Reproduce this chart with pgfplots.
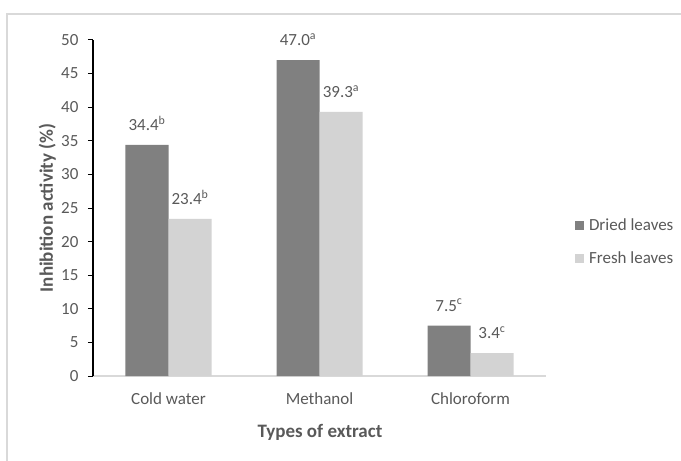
\documentclass[border=0pt]{standalone}
\usepackage{pgfplots}
\pgfplotsset{compat=1.18}
\usepackage{fontspec}
\setmainfont{Carlito}
\definecolor{txt}{HTML}{595959}
\definecolor{darkbar}{HTML}{808080}
\definecolor{lightbar}{HTML}{D3D3D3}
\definecolor{frame}{HTML}{D9D9D9}
\begin{document}
\begin{tikzpicture}[x=1pt,y=1pt]
\useasboundingbox (0,0) rectangle (681,461);
\draw[frame, line width=2pt] (7,0) -- (7,447) -- (681,447);
\begin{axis}[
 at={(93pt,85pt)}, anchor=south west,
 scale only axis, width=453pt, height=336pt,
 xmin=-0.5, xmax=2.5, ymin=0, ymax=50,
 ytick={0,5,...,50},
 xtick={0,1,2}, xticklabels={Cold water,Methanol,Chloroform},
 axis x line=bottom, axis y line=left,
 x axis line style={-, draw=frame, line width=1.5pt},
 y axis line style={-, black, line width=1.2pt},
 xtick style={draw=none},
 ytick style={black, line width=1pt},
 tick align=outside, major tick length=5pt,
 ticklabel style={font=\fontsize{17}{20}\selectfont, text=txt},
 yticklabel style={xshift=-6pt},
 xticklabel style={yshift=-8pt},
 /pgf/number format/assume math mode=true,
 ylabel={Inhibition activity (\%)},
 xlabel={Types of extract},
 label style={font=\fontsize{19}{22}\selectfont\bfseries, text=txt},
 ylabel style={at={(axis description cs:-0.101,0.5)}, anchor=center},
 xlabel style={at={(axis description cs:0.501,-0.1667)}, anchor=center},
 ybar=0pt, bar width=43pt,
 nodes near coords, point meta=explicit symbolic,
 nodes near coords style={font=\fontsize{17}{20}\selectfont, text=txt, anchor=south, inner sep=0pt, yshift=14pt},
 legend style={draw=none, fill=none, at={(1.057,0.399)}, anchor=west,
   font=\fontsize{17}{20}\selectfont, text=txt, row sep=16pt},
 legend cell align=left,
]
\addplot[fill=darkbar, draw=none, legend image code/.code={\fill[darkbar] (0pt,-4.5pt) rectangle (9pt,4.5pt); \path (12pt,0pt);}]
 coordinates {(0,34.4) [34.4\textsuperscript{b}] (1,47.0) [47.0\textsuperscript{a}] (2,7.5) [7.5\textsuperscript{c}]};
\addplot[fill=lightbar, draw=none, legend image code/.code={\fill[lightbar] (0pt,-4.5pt) rectangle (9pt,4.5pt); \path (12pt,0pt);}]
 coordinates {(0,23.4) [23.4\textsuperscript{b}] (1,39.3) [39.3\textsuperscript{a}] (2,3.4) [3.4\textsuperscript{c}]};
\legend{Dried leaves, Fresh leaves}
\end{axis}
\end{tikzpicture}
\end{document}
